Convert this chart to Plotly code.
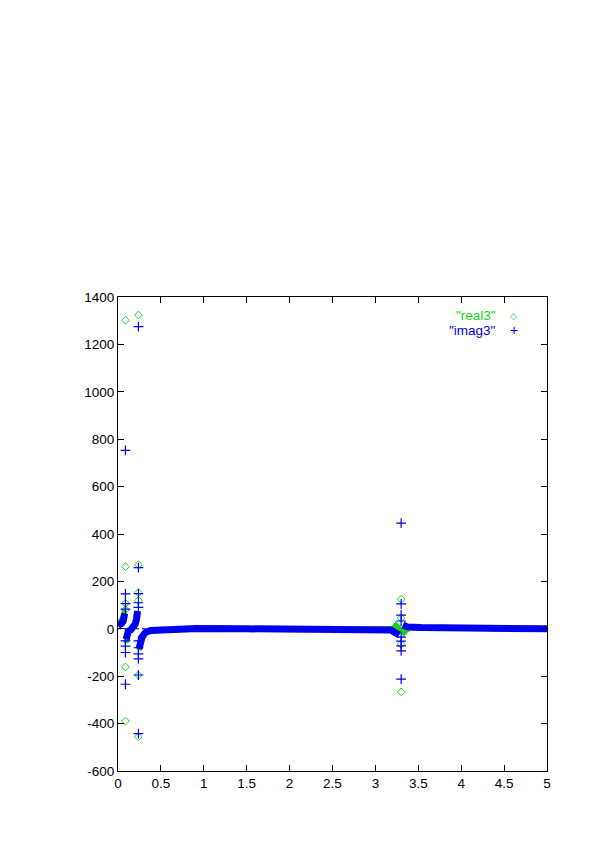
import plotly.graph_objects as go

# ---------------- data ----------------
# smooth branches (None separates branches across the poles)
real3_curve_x = [0, 0.02, 0.04, 0.06, 0.07, 0.078, None,
                 0.095, 0.11, 0.13, 0.15, 0.18, 0.2, 0.215, 0.228, None,
                 0.245, 0.26, 0.28, 0.31, 0.35, 0.4, 0.5, 0.7, 0.89, 0.91, 1.5, 2.0, 2.5, 3.0, 3.2,
                 3.24, 3.27, 3.30, 3.33, 3.36, 3.4, 3.6, 4.0, 4.3, 4.35, 4.6, 5.0]
real3_curve_y = [25, 30, 38, 52, 62, 80, None,
                 -60, -22, -12, -5, 2, 15, 35, 70, None,
                 -90, -55, -35, -20, -11, -7, -5, -4, -3, 0, 0, 0, 0, 0, 1,
                 17, 8, -5, -18, -6, 2, 4, 4, 3, 0, 0, 0]
real3_pole_x = [0.087, 0.087, 0.087, 0.087, 0.087, 0.087,
                0.238, 0.238, 0.238, 0.238, 0.238, 0.238,
                3.30, 3.30, 3.30, 3.30]
real3_pole_y = [1302, 262, 108, 80, -161, -389,
                1324, 270, 152, 120, -195, -456,
                125, 45, -65, -266]

imag3_curve_x = [0, 0.02, 0.04, 0.06, 0.07, 0.078, None,
                 0.095, 0.105, 0.12, 0.15, 0.18, 0.2, 0.215, 0.228, None,
                 0.245, 0.26, 0.28, 0.31, 0.33, 0.385, 0.5, 0.7, 0.89, 0.91, 1.5, 2.0, 2.5, 3.0, 3.18,
                 3.24, 3.28, None,
                 3.32, 3.37, 3.53, 4.0, 4.32, 4.35, 4.6, 5.0]
imag3_curve_y = [14, 17, 22, 32, 45, 65, None,
                 -45, -18, -10, -4, 5, 20, 40, 75, None,
                 -85, -55, -35, -20, -13, -7, -5, -4, -3, 1, 0, 0, 0, 0, -5,
                 -18, -25, None,
                 16, 8, 5, 5, 5, 1, 0, 0]
imag3_pole_x = [0.087] * 8 + [0.238] * 11 + [3.30] * 9
imag3_pole_y = [753, 147, 106, 83, -51, -73, -100, -234,
                1275, 258, 148, 110, 90, -51, -80, -106, -127, -195, -442,
                446, 105, 58, 33, -35, -52, -72, -93, -212]

x_ticks = [0, 0.5, 1, 1.5, 2, 2.5, 3, 3.5, 4, 4.5, 5]
x_tick_labels = ["0", "0.5", "1", "1.5", "2", "2.5", "3", "3.5", "4", "4.5", "5"]
y_ticks = [-600, -400, -200, 0, 200, 400, 600, 800, 1000, 1200, 1400]
y_tick_labels = ["-600", "-400", "-200", "0", "200", "400", "600", "800", "1000", "1200", "1400"]

GREEN = "#19d219"
BLUE = "#0000f0"
FONT = "Liberation Sans, Arial, Helvetica, sans-serif"

fig = go.Figure()

# real3 (green, drawn first)
fig.add_trace(go.Scatter(x=real3_curve_x, y=real3_curve_y, mode="lines",
                         line=dict(color=GREEN, width=5), connectgaps=False,
                         showlegend=False, hoverinfo="skip"))
fig.add_trace(go.Scatter(x=real3_pole_x, y=real3_pole_y, mode="markers",
                         marker=dict(symbol="diamond-open", size=6, color=GREEN,
                                     line=dict(width=1, color=GREEN)),
                         name='"real3"', showlegend=False))
# imag3 (blue, on top)
fig.add_trace(go.Scatter(x=imag3_curve_x, y=imag3_curve_y, mode="lines",
                         line=dict(color=BLUE, width=7), connectgaps=False,
                         showlegend=False, hoverinfo="skip"))
fig.add_trace(go.Scatter(x=imag3_pole_x, y=imag3_pole_y, mode="markers",
                         marker=dict(symbol="cross-thin-open", size=7, color=BLUE,
                                     line=dict(width=1.2, color=BLUE)),
                         name='"imag3"', showlegend=False))

axis_common = dict(showline=True, linecolor="black", linewidth=1, mirror="ticks",
                   ticks="inside", ticklen=6, tickcolor="black", tickwidth=1,
                   showgrid=False, zeroline=False,
                   tickfont=dict(family=FONT, size=13.5, color="black"))

fig.update_xaxes(range=[0, 5], tickvals=x_ticks, ticktext=x_tick_labels, **axis_common)
fig.update_yaxes(range=[-600, 1400], tickvals=y_ticks, ticktext=y_tick_labels, **axis_common)

# dotted zero axis (gnuplot style), below data
fig.add_shape(type="line", xref="paper", x0=0, x1=1, yref="y", y0=0, y1=0,
              line=dict(color="black", width=1, dash="dot"), layer="below")

# gnuplot-style key: label then sample symbol
fig.add_annotation(xref="paper", yref="paper", x=0.886, y=0.960, text='"real3"',
                   showarrow=False, xanchor="right", yanchor="middle",
                   font=dict(family=FONT, size=13.5, color=GREEN))
fig.add_annotation(xref="paper", yref="paper", x=0.923, y=0.960, text="◇",
                   showarrow=False, xanchor="center", yanchor="middle",
                   font=dict(family="DejaVu Sans", size=9, color=GREEN))
fig.add_annotation(xref="paper", yref="paper", x=0.886, y=0.930, text='"imag3"',
                   showarrow=False, xanchor="right", yanchor="middle",
                   font=dict(family=FONT, size=13.5, color=BLUE))
fig.add_annotation(xref="paper", yref="paper", x=0.923, y=0.930, text="+",
                   showarrow=False, xanchor="center", yanchor="middle",
                   font=dict(family=FONT, size=14, color=BLUE))

fig.update_layout(width=595, height=842,
                  margin=dict(l=110, r=56, t=289, b=79),
                  paper_bgcolor="white", plot_bgcolor="white",
                  showlegend=False,
                  font=dict(family=FONT, size=13.5, color="black"))

fig.write_html("out.html")
